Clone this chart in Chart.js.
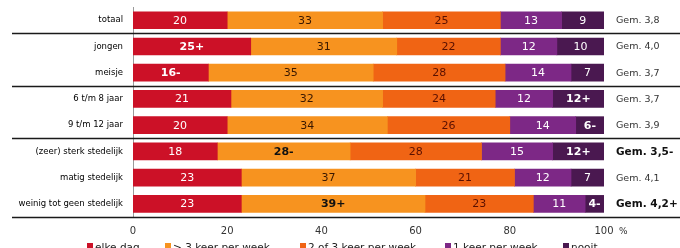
<!DOCTYPE html>
<html>
<head>
<meta charset="utf-8">
<script src="https://cdn.jsdelivr.net/npm/chart.js@4"></script>
<style>
  html, body { margin: 0; padding: 0; background: #fff; }
  #wrap { width: 680px; height: 248px; }
</style>
</head>
<body>
<div id="wrap"><canvas id="chart" width="680" height="248"></canvas></div>
<script>
// Data
const categories = ['totaal', 'jongen', 'meisje', '6 t/m 8 jaar', '9 t/m 12 jaar',
  '(zeer) sterk stedelijk', 'matig stedelijk', 'weinig tot geen stedelijk'];

const elkeDag  = [20, 25, 16, 20.8, 20, 17.9, 23, 23];
const meerDan3 = [33, 31, 35, 32.2, 34, 28.2, 37, 39];
const tweeOf3  = [25, 22, 28, 23.9, 26, 27.9, 21, 23];
const eenKeer  = [13, 12, 14, 12.2, 14, 15.1, 12, 11];
const nooit    = [9, 10, 7, 10.9, 6, 10.9, 7, 4];

// printed labels (with significance markers)
const elkeDagLabels  = ['20', '25+', '16-', '21', '20', '18', '23', '23'];
const meerDan3Labels = ['33', '31', '35', '32', '34', '28-', '37', '39+'];
const tweeOf3Labels  = ['25', '22', '28', '24', '26', '28', '21', '23'];
const eenKeerLabels  = ['13', '12', '14', '12', '14', '15', '12', '11'];
const nooitLabels    = ['9', '10', '7', '12+', '6-', '12+', '7', '4-'];

const gemLabels = ['Gem. 3,8', 'Gem. 4,0', 'Gem. 3,7', 'Gem. 3,7', 'Gem. 3,9',
  'Gem. 3,5-', 'Gem. 4,1', 'Gem. 4,2+'];

const seriesNames = ['elke dag', '> 3 keer per week', '2 of 3 keer per week', '1 keer per week', 'nooit'];
const xTicks = [0, 20, 40, 60, 80, 100];

const colors = ['#cc1127', '#f7931f', '#f06414', '#7d2886', '#4a1850'];
const textColors = ['#fff', '#3a1800', '#5a1000', '#fff', '#fff'];
const separatorsAfter = [0, 2, 4]; // lines below these rows

const allValues = [elkeDag, meerDan3, tweeOf3, eenKeer, nooit];
const allLabels = [elkeDagLabels, meerDan3Labels, tweeOf3Labels, eenKeerLabels, nooitLabels];

const FONT = 'DejaVu Sans';

const overlay = {
  id: 'overlay',
  afterDatasetsDraw(chart) {
    const { ctx, chartArea } = chart;
    const yScale = chart.scales.y;
    ctx.save();

    // value labels in the segments
    ctx.textAlign = 'center';
    ctx.textBaseline = 'middle';
    allLabels.forEach((labels, di) => {
      const meta = chart.getDatasetMeta(di);
      meta.data.forEach((bar, i) => {
        const txt = labels[i];
        const bold = /[+-]$/.test(txt);
        ctx.font = (bold ? 'bold ' : '') + '11px "' + FONT + '"';
        ctx.fillStyle = bold && (di === 1 || di === 2) ? '#111' : textColors[di];
        ctx.fillText(txt, (bar.x + bar.base) / 2, bar.y + 0.5);
      });
    });

    // Gem. labels on the right
    ctx.textAlign = 'left';
    gemLabels.forEach((txt, i) => {
      const bold = /[+-]$/.test(txt);
      ctx.font = bold ? 'bold 10.5px "' + FONT + '"' : '9.5px "' + FONT + '"';
      ctx.fillStyle = bold ? '#111' : '#333';
      ctx.fillText(txt, 616, yScale.getPixelForValue(i) + 0.5);
    });

    // separator lines
    ctx.strokeStyle = '#1a1a1a';
    ctx.lineWidth = 1.6;
    const step = yScale.getPixelForValue(1) - yScale.getPixelForValue(0);
    separatorsAfter.forEach(r => {
      const y = Math.round(yScale.getPixelForValue(r) + step / 2) + 0.5;
      ctx.beginPath();
      ctx.moveTo(12, y);
      ctx.lineTo(680, y);
      ctx.stroke();
    });
    // bottom line
    ctx.beginPath();
    ctx.moveTo(12, chartArea.bottom + 0.5);
    ctx.lineTo(680, chartArea.bottom + 0.5);
    ctx.stroke();

    // percent sign
    ctx.font = '9px "' + FONT + '"';
    ctx.fillStyle = '#333';
    ctx.textBaseline = 'middle';
    ctx.fillText('%', 619, 232);

    // legend
    const legendX = [87, 165, 300, 445, 563];
    ctx.font = '10.5px "' + FONT + '"';
    ctx.textBaseline = 'alphabetic';
    seriesNames.forEach((name, i) => {
      ctx.fillStyle = colors[i];
      ctx.fillRect(legendX[i], 243, 6, 6);
      ctx.fillStyle = '#222';
      ctx.fillText(name, legendX[i] + 8, 251);
    });

    ctx.restore();
  }
};

new Chart(document.getElementById('chart'), {
  type: 'bar',
  data: {
    labels: categories,
    datasets: allValues.map((vals, i) => ({
      label: seriesNames[i],
      data: vals,
      backgroundColor: colors[i],
      borderWidth: 0,
      barThickness: 17
    }))
  },
  options: {
    indexAxis: 'y',
    responsive: false,
    animation: false,
    layout: { padding: { left: 0, right: 76, top: 0, bottom: 0 } },
    plugins: {
      legend: { display: false },
      tooltip: { enabled: false }
    },
    scales: {
      x: {
        stacked: true,
        min: 0,
        max: 100,
        afterBuildTicks: s => { s.ticks = xTicks.map(v => ({ value: v })); },
        grid: { display: false },
        border: { display: false },
        ticks: { padding: 0, color: '#333', font: { family: FONT, size: 10 } },
        afterFit: s => { s.height = 31; }
      },
      y: {
        stacked: true,
        grid: { display: false },
        border: { display: true, color: '#9a9a9a', width: 1 },
        ticks: { padding: 2, color: '#000', font: { family: FONT, size: 8.5 } },
        afterFit: s => { s.width = 133; }
      }
    }
  },
  plugins: [overlay]
});
</script>
</body>
</html>
